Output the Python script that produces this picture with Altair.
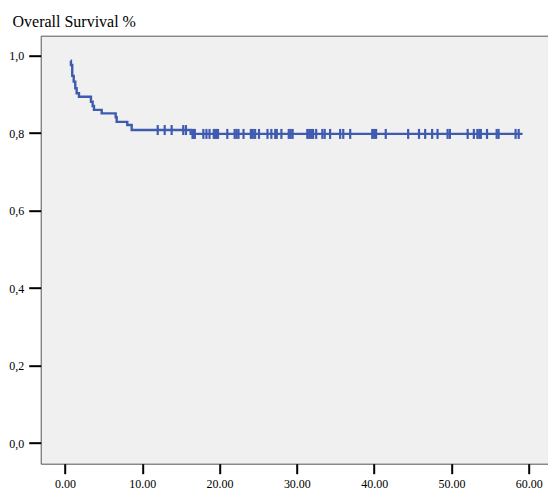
import altair as alt
import pandas as pd

# Kaplan-Meier step curve (time in months, survival proportion after the step)
step_times = [0.74, 0.77, 0.94, 1.13, 1.33, 1.51, 1.81, 3.36, 3.58, 3.75, 4.75,
              6.56, 6.69, 8.06, 8.63, 16.26, 59.2]
step_surv = [0.987, 0.976, 0.948, 0.933, 0.916, 0.903, 0.894, 0.881, 0.870, 0.860,
             0.851, 0.841, 0.829, 0.821, 0.808, 0.798, 0.798]

# Censored observations (times)
censor_times = [12.0, 12.9, 13.8, 15.3, 15.65, 16.5, 16.65, 16.8, 17.9, 18.3, 18.7,
                19.25, 19.45, 19.65, 19.8, 21.0, 21.95, 22.2, 22.45, 23.1, 24.05,
                24.3, 24.6, 25.1, 26.2, 26.7, 27.2, 27.4, 28.0, 28.95, 29.2, 29.45,
                31.35, 31.6, 31.85, 32.1, 32.5, 33.3, 33.6, 34.3, 35.6, 36.0, 36.9,
                39.75, 40.0, 40.25, 41.5, 44.4, 45.8, 46.6, 47.5, 48.2, 49.5, 49.8,
                52.1, 52.9, 53.35, 53.6, 53.8, 54.6, 55.85, 56.1, 58.3, 58.7]

x_ticks = [0, 10, 20, 30, 40, 50, 60]
y_ticks = [0.0, 0.2, 0.4, 0.6, 0.8, 1.0]


def surv_at(t):
    s = step_surv[0]
    for tt, ss in zip(step_times, step_surv):
        if tt <= t:
            s = ss
    return s


line_df = pd.DataFrame({"t": step_times, "s": step_surv})
cens_df = pd.DataFrame({"t": censor_times, "s": [surv_at(t) for t in censor_times]})

FONT = "Liberation Serif"
BLUE = "#3f5bb0"

# plot area: 507.3 px wide, 0 at 24.3 px, 7.73 px per unit
xscale = alt.Scale(domain=[-3.14, 62.49], nice=False, zero=False)
yscale = alt.Scale(domain=[-0.0534, 1.0516], nice=False, zero=False)

xaxis = alt.Axis(values=x_ticks, format=".2f", title=None, grid=False, domain=False,
                 tickSize=10, tickWidth=2, tickColor="black", labelPadding=5,
                 labelFont=FONT, labelFontSize=12, labelColor="black")
yaxis = alt.Axis(values=y_ticks,
                 labelExpr="replace(format(datum.value, '.1f'), '.', ',')",
                 grid=False, domain=False, tickSize=12, tickWidth=2,
                 tickColor="black", labelPadding=5, labelFont=FONT,
                 labelFontSize=12, labelColor="black",
                 title="Overall Survival %", titleAngle=0, titleAlign="left",
                 titleBaseline="alphabetic", titleX=-28.7, titleY=-9,
                 titleFont=FONT, titleFontSize=16, titleFontWeight="normal",
                 titleColor="black")

line = alt.Chart(line_df).mark_line(interpolate="step-after", color=BLUE,
                                    strokeWidth=2.4).encode(
    x=alt.X("t:Q", scale=xscale, axis=xaxis),
    y=alt.Y("s:Q", scale=yscale, axis=yaxis),
    order="t:Q",
)

ticks = alt.Chart(cens_df).mark_tick(orient="vertical", size=10, thickness=2.2,
                                     color=BLUE, opacity=1).encode(
    x=alt.X("t:Q", scale=xscale),
    y=alt.Y("s:Q", scale=yscale),
)

chart = alt.layer(line, ticks).properties(
    width=507.3, height=428,
    autosize=alt.AutoSizeParams(type="none"),
    padding={"left": 32.7, "top": 27.7, "right": 0, "bottom": 28},
    background="white",
).configure_view(fill="#f0f0f0", stroke="#555555", strokeWidth=1)

chart.save("out.html", embed_options={"renderer": "svg", "actions": False})
